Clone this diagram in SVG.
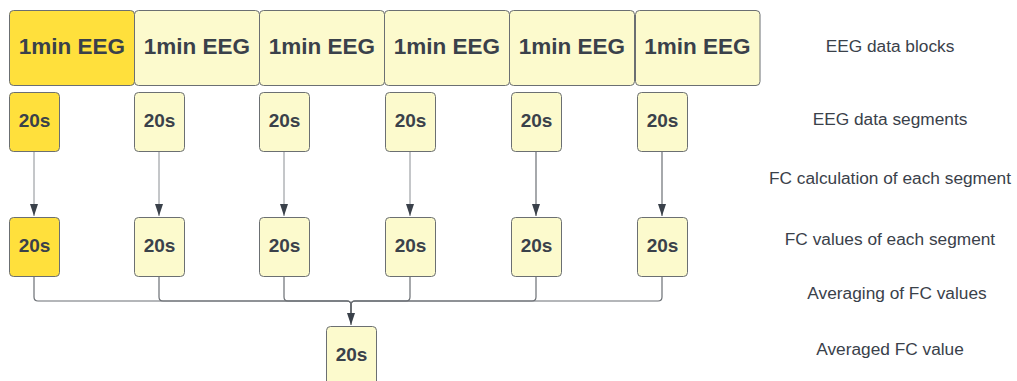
<svg xmlns="http://www.w3.org/2000/svg" width="1017" height="381" viewBox="0 0 1017 381">
  <style>
    .hot { fill: #ffe03c; stroke: #6b6f72; stroke-width: 1; }
    .pale { fill: #fcfacd; stroke: #6b6f72; stroke-width: 1; }
    .big { font-family: "Liberation Sans", Arial, sans-serif; font-weight: bold; font-size: 22.5px; fill: #3a414a; text-anchor: middle; }
    .seg { font-family: "Liberation Sans", Arial, sans-serif; font-weight: bold; font-size: 19px; fill: #3a414a; text-anchor: middle; }
    .lbl { font-family: "Liberation Sans", Arial, sans-serif; font-size: 17.3px; fill: #3a414a; text-anchor: middle; }
    .wire { fill: none; stroke: #8a8e93; stroke-width: 1; }
    .wire2 { fill: none; stroke: #6b6f74; stroke-width: 1.2; }
  </style>
  <defs>
    <marker id="head" viewBox="0 0 12 8" refX="12" refY="4" markerWidth="12" markerHeight="8" markerUnits="userSpaceOnUse" orient="auto">
      <path d="M0,0 L12,4 L0,8 Z" fill="#3a414a"/>
    </marker>
  </defs>

  <rect width="1017" height="381" fill="#ffffff"/>

  <!-- connectors -->
  <g id="connectors">
    <path class="wire" d="M34,151 V216" marker-end="url(#head)"/>
    <path class="wire" d="M159,151 V216" marker-end="url(#head)"/>
    <path class="wire" d="M284,151 V216" marker-end="url(#head)"/>
    <path class="wire" d="M410,151 V216" marker-end="url(#head)"/>
    <path class="wire2" d="M536,151 V216" marker-end="url(#head)"/>
    <path class="wire2" d="M662,151 V216" marker-end="url(#head)"/>

    <path class="wire2" d="M34,277 V297 Q34,301 38,301 H347 Q351,301 351,305 V325" marker-end="url(#head)"/>
    <path class="wire2" d="M159,277 V297 Q159,301 163,301 H347 Q351,301 351,305 V313"/>
    <path class="wire2" d="M284,277 V297 Q284,301 288,301 H347 Q351,301 351,305 V313"/>
    <path class="wire2" d="M410,277 V297 Q410,301 406,301 H355 Q351,301 351,305 V313"/>
    <path class="wire2" d="M536,277 V297 Q536,301 532,301 H355 Q351,301 351,305 V313"/>
    <path class="wire2" d="M662,277 V297 Q662,301 658,301 H355 Q351,301 351,305 V313"/>
  </g>

  <!-- one-minute blocks -->
  <g id="block1"><rect class="hot" x="9.5" y="10.5" width="125" height="75" rx="4"/><text class="big" x="72" y="53.5">1min EEG</text></g>
  <g id="block2"><rect class="pale" x="134.5" y="10.5" width="125" height="75" rx="4"/><text class="big" x="197" y="53.5">1min EEG</text></g>
  <g id="block3"><rect class="pale" x="259.5" y="10.5" width="125" height="75" rx="4"/><text class="big" x="322" y="53.5">1min EEG</text></g>
  <g id="block4"><rect class="pale" x="384.5" y="10.5" width="125" height="75" rx="4"/><text class="big" x="447" y="53.5">1min EEG</text></g>
  <g id="block5"><rect class="pale" x="509.5" y="10.5" width="125" height="75" rx="4"/><text class="big" x="572" y="53.5">1min EEG</text></g>
  <g id="block6"><rect class="pale" x="635.5" y="10.5" width="124.5" height="75" rx="4"/><text class="big" x="697.5" y="53.5">1min EEG</text></g>

  <!-- 20 s segments -->
  <g id="seg1"><rect class="hot" x="9.5" y="92.5" width="50" height="59" rx="4"/><text class="seg" x="34.5" y="127">20s</text></g>
  <g id="seg2"><rect class="pale" x="134.5" y="92.5" width="50" height="59" rx="4"/><text class="seg" x="159.5" y="127">20s</text></g>
  <g id="seg3"><rect class="pale" x="259.5" y="92.5" width="50" height="59" rx="4"/><text class="seg" x="284.5" y="127">20s</text></g>
  <g id="seg4"><rect class="pale" x="385.5" y="92.5" width="50" height="59" rx="4"/><text class="seg" x="410.5" y="127">20s</text></g>
  <g id="seg5"><rect class="pale" x="511.5" y="92.5" width="50" height="59" rx="4"/><text class="seg" x="536.5" y="127">20s</text></g>
  <g id="seg6"><rect class="pale" x="637.5" y="92.5" width="50" height="59" rx="4"/><text class="seg" x="662.5" y="127">20s</text></g>

  <!-- FC values per segment -->
  <g id="fc1"><rect class="hot" x="9.5" y="217.5" width="50" height="59" rx="4"/><text class="seg" x="34.5" y="252">20s</text></g>
  <g id="fc2"><rect class="pale" x="134.5" y="217.5" width="50" height="59" rx="4"/><text class="seg" x="159.5" y="252">20s</text></g>
  <g id="fc3"><rect class="pale" x="259.5" y="217.5" width="50" height="59" rx="4"/><text class="seg" x="284.5" y="252">20s</text></g>
  <g id="fc4"><rect class="pale" x="385.5" y="217.5" width="50" height="59" rx="4"/><text class="seg" x="410.5" y="252">20s</text></g>
  <g id="fc5"><rect class="pale" x="511.5" y="217.5" width="50" height="59" rx="4"/><text class="seg" x="536.5" y="252">20s</text></g>
  <g id="fc6"><rect class="pale" x="637.5" y="217.5" width="50" height="59" rx="4"/><text class="seg" x="662.5" y="252">20s</text></g>

  <!-- averaged result -->
  <g id="avg"><rect class="pale" x="326.5" y="326.5" width="50" height="62" rx="4"/><text class="seg" x="351.5" y="361">20s</text></g>

  <!-- row captions -->
  <g id="captions">
    <text class="lbl" x="890" y="51.5">EEG data blocks</text>
    <text class="lbl" x="890" y="125">EEG data segments</text>
    <text class="lbl" x="890" y="184">FC calculation of each segment</text>
    <text class="lbl" x="890" y="244.5">FC values of each segment</text>
    <text class="lbl" x="897" y="299">Averaging of FC values</text>
    <text class="lbl" x="890" y="354.5">Averaged FC value</text>
  </g>
</svg>
